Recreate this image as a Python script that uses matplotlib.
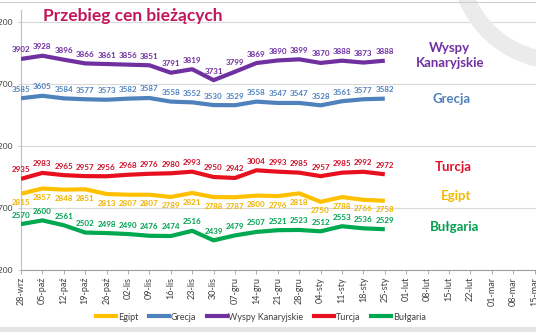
import matplotlib
matplotlib.use("Agg")
import matplotlib.pyplot as plt
from matplotlib.patches import Arc, Rectangle
from matplotlib.lines import Line2D

# ---- data ----
categories = ["28-wrz", "05-paź", "12-paź", "19-paź", "26-paź", "02-lis", "09-lis",
              "16-lis", "23-lis", "30-lis", "07-gru", "14-gru", "21-gru", "28-gru",
              "04-sty", "11-sty", "18-sty", "25-sty", "01-lut", "08-lut", "15-lut",
              "22-lut", "01-mar", "08-mar", "15-mar"]
wyspy = [3902, 3928, 3896, 3866, 3861, 3856, 3851, 3791, 3819, 3731, 3799, 3869,
         3890, 3899, 3870, 3888, 3873, 3888]
grecja = [3585, 3605, 3584, 3577, 3573, 3582, 3587, 3558, 3552, 3530, 3529, 3558,
          3547, 3547, 3528, 3561, 3577, 3582]
turcja = [2935, 2983, 2965, 2957, 2956, 2968, 2976, 2980, 2993, 2950, 2942, 3004,
          2993, 2985, 2957, 2985, 2992, 2972]
egipt = [2815, 2857, 2848, 2851, 2813, 2807, 2807, 2789, 2821, 2788, 2787, 2800,
         2796, 2818, 2750, 2788, 2766, 2758]
bulgaria = [2570, 2600, 2561, 2502, 2498, 2490, 2476, 2474, 2516, 2439, 2479, 2507,
            2521, 2523, 2512, 2553, 2536, 2529]
yticks = [2200, 2700, 3200, 3700, 4200]
title = "Przebieg cen bieżących"

W, H = 536, 332
fig = plt.figure(figsize=(W / 100, H / 100), dpi=100)
fig.patch.set_facecolor("white")

FONT = ["Lato", "DejaVu Sans"]

def px_axes(left, top, right, bottom):
    return [left / W, 1 - bottom / H, (right - left) / W, (bottom - top) / H]

ax = fig.add_axes(px_axes(21, 9.6, 536, 270))
ax.set_xlim(0, 515 / 21.4)
ax.set_ylim(2200, 4300)

ax.set_yticks(yticks)
ax.set_yticklabels([str(v) for v in yticks], fontsize=6, color="#404040", family=FONT)
ax.yaxis.grid(True, color="#d9d9d9", linewidth=0.8)
ax.set_axisbelow(True)
ax.set_xticks(range(len(categories)))
ax.set_xticklabels(categories, rotation=90, fontsize=6.5, color="#404040", family=FONT,
                   va="top", ha="center")
ax.tick_params(axis="x", length=3, width=0.6, color="#a0a0a0", pad=2)
ax.tick_params(axis="y", length=2.5, width=0.6, color="#c0c0c0", pad=3)
for s in ["top", "right"]:
    ax.spines[s].set_visible(False)
ax.spines["left"].set_color("#c0c0c0")
ax.spines["bottom"].set_color("#a0a0a0")
ax.spines["left"].set_linewidth(0.8)
ax.spines["bottom"].set_linewidth(0.8)

series = [
    ("Egipt", egipt, "#ffc000", "#f0b400", -1),
    ("Grecja", grecja, "#4f81bd", "#4f81bd", 1),
    ("Wyspy Kanaryjskie", wyspy, "#7030a0", "#7030a0", 1),
    ("Turcja", turcja, "#e8101e", "#d0102a", 1),
    ("Bułgaria", bulgaria, "#00a84f", "#00a050", 1),
]
handles = []
for name, vals, col, tcol, side in series:
    xs = list(range(len(vals)))
    ln, = ax.plot(xs, vals, color=col, linewidth=3, solid_capstyle="butt",
                  solid_joinstyle="round", label=name, zorder=3)
    handles.append(Line2D([0], [0], color=col, linewidth=3))
    for x, v in zip(xs, vals):
        ax.annotate(str(v), (x, v), xytext=(0, 6.5 * side), textcoords="offset points",
                    ha="center", va="center", fontsize=5.8, fontweight="bold",
                    color=tcol, family=FONT, zorder=4)

leg = fig.legend(handles, [s[0] for s in series], loc="center",
                 bbox_to_anchor=(261 / W, 1 - 317 / H), ncol=5, frameon=False,
                 fontsize=6.5, handlelength=2.2, handletextpad=0.2, columnspacing=1.2,
                 prop={"family": FONT, "size": 6.5})
for t in leg.get_texts():
    t.set_color("#404040")

# right-side labels
side_labels = [
    ("Wyspy", 449, 48, "#7030a0"),
    ("Kanaryjskie", 450, 63, "#7030a0"),
    ("Grecja", 452, 99, "#4f81bd"),
    ("Turcja", 453, 167, "#e0102a"),
    ("Egipt", 456, 196, "#f5b800"),
    ("Bułgaria", 455, 227, "#00a050"),
]
for txt, x, y, c in side_labels:
    fig.text(x / W, 1 - y / H, txt, ha="center", va="center", fontsize=9.5,
             fontweight="bold", color=c, family=FONT)

# title
fig.text(43 / W, 1 - 16 / H, title, ha="left", va="center", fontsize=12.5,
         fontweight="bold", color="#c2185b", family=FONT)

# decorative arc (slide background), bottom band and top border
arc = Arc((560 / 100, (H + 40) / 100), 2 * 101 / 100, 2 * 101 / 100, theta1=180, theta2=290,
          transform=fig.dpi_scale_trans, color="#ebebeb", linewidth=12, zorder=1.5)
fig.add_artist(arc)
fig.add_artist(Rectangle((0, 0), 1, 5 / H, transform=fig.transFigure,
                         facecolor="#e4e4e4", edgecolor="none"))
fig.add_artist(Line2D([0, 1], [1 - 2 / H, 1 - 2 / H], transform=fig.transFigure,
                      color="#d0d0d0", linewidth=0.8))

fig.savefig("out.png", dpi=100)
